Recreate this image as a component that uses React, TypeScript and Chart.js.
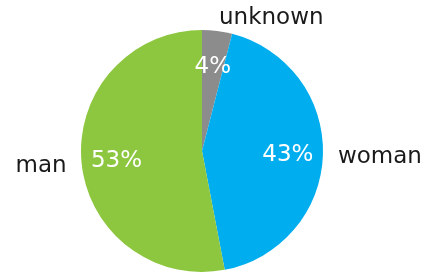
import React, { useEffect, useRef } from "react";
import { Chart, registerables } from "chart.js";

Chart.register(...registerables);

const categories = ["unknown", "woman", "man"];
const values = [4, 43, 53];
const percentLabels = ["4%", "43%", "53%"];
const colors = ["#8c8c8c", "#00aeef", "#8dc63f"];

const labelPlugin = {
  id: "pieLabels",
  afterDatasetsDraw(chart: any) {
    const ctx = chart.ctx;
    const meta = chart.getDatasetMeta(0);
    ctx.save();
    ctx.font = '23px "DejaVu Sans"';
    ctx.textBaseline = "middle";
    meta.data.forEach((arc: any, i: number) => {
      const { x, y, startAngle, endAngle, outerRadius } = arc.getProps(
        ["x", "y", "startAngle", "endAngle", "outerRadius"],
        true
      );
      const mid = (startAngle + endAngle) / 2;
      const c = Math.cos(mid);
      const s = Math.sin(mid);
      ctx.fillStyle = "#ffffff";
      ctx.textAlign = "center";
      const ir = outerRadius * 0.71;
      ctx.fillText(percentLabels[i], x + ir * c, y + ir * s + 1.5);
      ctx.fillStyle = "#1a1a1a";
      ctx.textAlign = c >= 0 ? "left" : "right";
      const orr = outerRadius + 15;
      ctx.fillText(categories[i], x + orr * c, y + orr * s + 2);
    });
    ctx.restore();
  },
};

export default function App() {
  const ref = useRef<HTMLCanvasElement>(null);
  useEffect(() => {
    if (!ref.current) return;
    const chart = new Chart(ref.current, {
      type: "pie",
      data: {
        labels: categories,
        datasets: [
          {
            data: values,
            backgroundColor: colors,
            borderWidth: 0,
          },
        ],
      },
      options: {
        responsive: false,
        animation: false,
        layout: { padding: { left: 81, right: 111, top: 30, bottom: 5 } },
        plugins: {
          legend: { display: false },
          tooltip: { enabled: false },
        },
      },
      plugins: [labelPlugin],
    });
    return () => chart.destroy();
  }, []);
  return (
    <div style={{ position: "fixed", left: 0, top: 0, width: 434, height: 277, background: "#fff" }}>
      <canvas ref={ref} width={434} height={277} style={{ width: 434, height: 277 }} />
    </div>
  );
}
